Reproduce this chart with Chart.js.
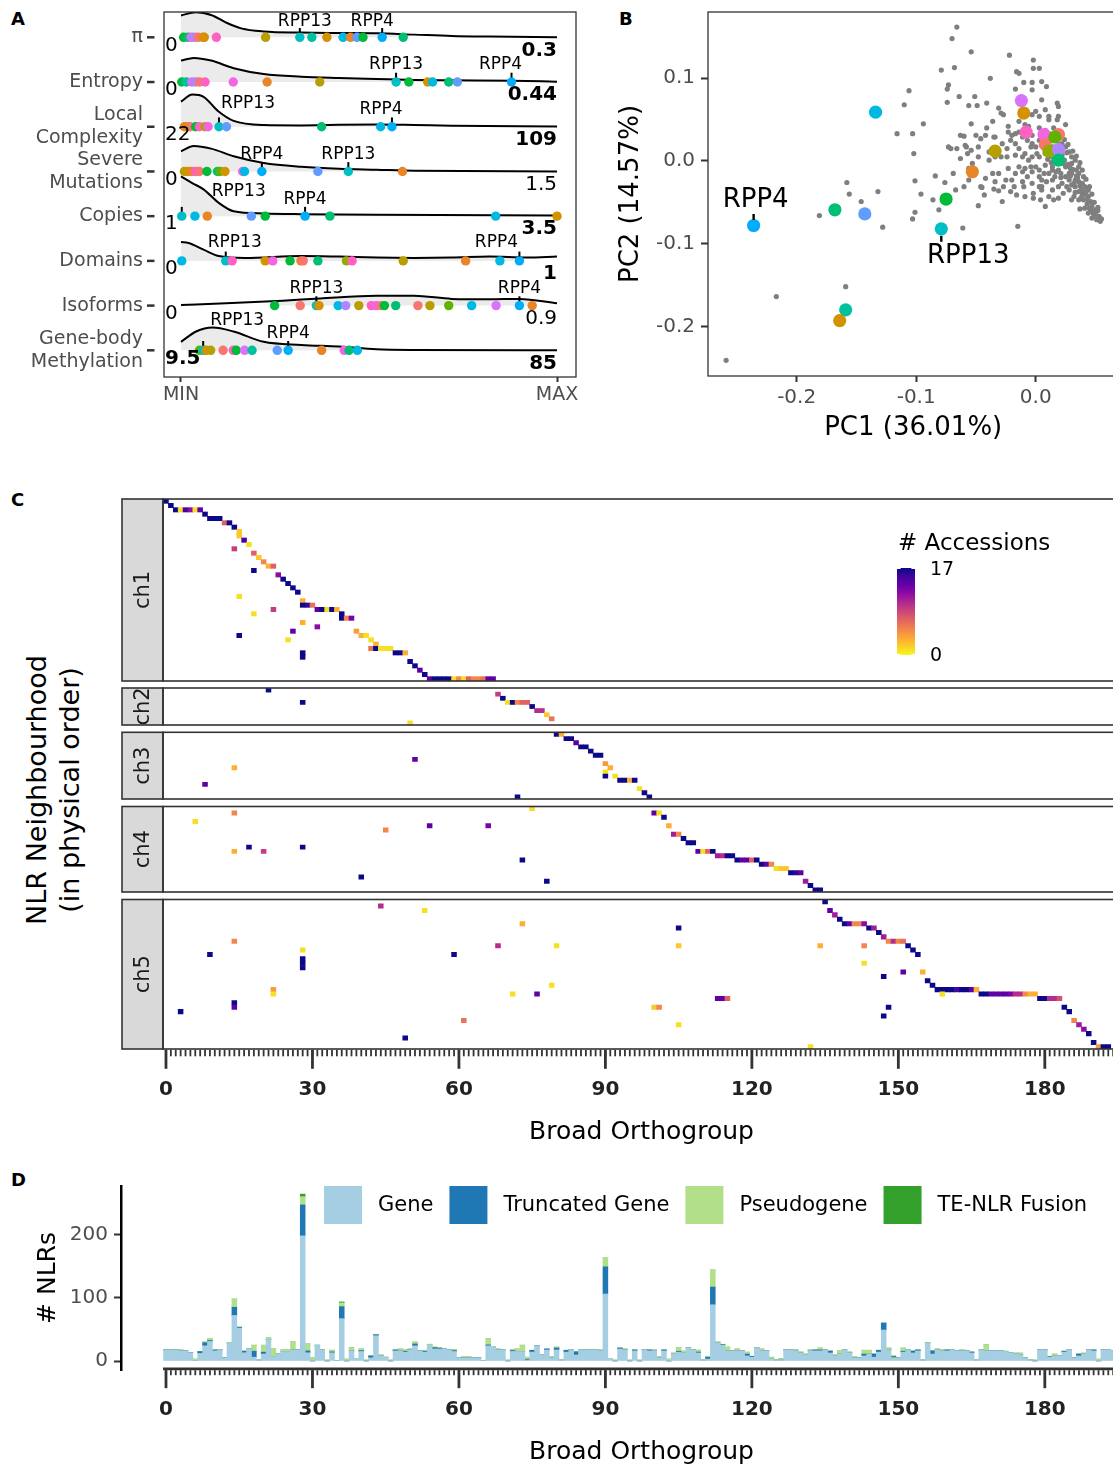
<!DOCTYPE html>
<html>
<head>
<meta charset="utf-8">
<script src="https://cdn.jsdelivr.net/npm/chart.js@4.4.1/dist/chart.umd.min.js"></script>
<style>
html,body{margin:0;padding:0;background:#ffffff;}
body{position:relative;width:1113px;height:1468px;overflow:hidden;font-family:"DejaVu Sans",sans-serif;}
canvas{position:absolute;}
.tag{position:absolute;font-weight:bold;font-size:18px;line-height:18px;color:#000;}
#ctitle{position:absolute;left:-147px;top:757px;width:400px;height:66px;transform:rotate(-90deg);text-align:center;font-size:27px;line-height:33px;color:#000;white-space:nowrap;}
</style>
</head>
<body>
<div class="tag" style="left:11px;top:10px">A</div>
<div class="tag" style="left:619px;top:10px">B</div>
<div class="tag" style="left:11px;top:491px">C</div>
<div class="tag" style="left:11px;top:1171px">D</div>
<div id="ctitle">NLR Neighbourhood<br>(in physical order)</div>
<canvas id="cA" width="595" height="410" style="left:0px;top:0px"></canvas>
<canvas id="cB" width="525" height="445" style="left:600px;top:0px"></canvas>
<canvas id="cC1" style="left:0px"></canvas>
<canvas id="cC2" style="left:0px"></canvas>
<canvas id="cC3" style="left:0px"></canvas>
<canvas id="cC4" style="left:0px"></canvas>
<canvas id="cC5" style="left:0px"></canvas>
<canvas id="cD" width="1125" height="292" style="left:0px;top:1176px"></canvas>
<script>
// ===================== DATA =====================
// Panel A: ridge rows
const ridgeNames = ['π', 'Entropy', ['Local', 'Complexity'], ['Severe', 'Mutations'], 'Copies', 'Domains', 'Isoforms', ['Gene-body', 'Methylation']];
const ridgeMin = ['0', '0', '22', '0', '1', '0', '0', '9.5'];
const ridgeMax = ['0.3', '0.44', '109', '1.5', '3.5', '1', '0.9', '85'];
// density curves (x = scaled value MIN..MAX, d = density height in row units)
const densU = [
  [0, .04, .08, .12, .16, .22, .32, .42, .52, .62, .72, .82, 1],
  [0, .034, .08, .14, .22, .32, .42, .52, .62, .72, .88, 1],
  [0, .03, .06, .1, .14, .22, .32, .42, .52, .62, .72, 1],
  [0, .034, .08, .14, .22, .32, .42, .52, .62, 1],
  [0, .03, .06, .1, .14, .22, .32, .52, 1],
  [0, .02, .06, .1, .17, .32, .42, .52, .62, .72, .82, .92, 1],
  [0, .12, .27, .37, .52, .62, .72, .82, .9, 1],
  [0, .04, .084, .14, .22, .32, .42, .52, .62, 1]
];
const densD = [
  [.49, .56, .50, .33, .20, .13, .105, .096, .09, .06, .03, .016, 0],
  [.48, .54, .48, .31, .18, .12, .09, .067, .045, .038, .03, .007],
  [.56, .72, .67, .34, .13, .038, .03, .045, .05, .038, .022, .007],
  [.45, .57, .51, .34, .19, .105, .06, .038, .016, 0],
  [.89, .74, .60, .30, .11, .06, .045, .03, .016],
  [.42, .40, .25, .11, .067, .11, .096, .074, .067, .074, .096, .074, .096],
  [.016, .05, .11, .16, .22, .22, .15, .14, .15, .05],
  [.19, .42, .51, .42, .19, .12, .083, .022, .007, 0]
];
const shadeFrom = [0, 0, 0, 0, 0, 0, .249, 0];
const shadeTo = [.591, .879, .561, .589, 1, .9, .934, .469];
// highlighted genes per row: [scaled value, gene index]
const ridgePoints = [
  [[.007,6],[.019,7],[.027,14],[.035,13],[.045,0],[.058,1],[.062,2],[.094,16],[.225,3],[.316,9],[.348,8],[.388,2],[.431,10],[.451,1],[.468,12],[.484,6],[.535,11],[.591,7]],
  [[.002,6],[.014,8],[.029,14],[.039,13],[.049,0],[.064,16],[.139,15],[.229,1],[.369,3],[.572,9],[.606,6],[.656,2],[.669,10],[.712,7],[.735,12],[.879,11]],
  [[.009,1],[.017,2],[.024,0],[.039,6],[.049,16],[.064,3],[.072,15],[.101,9],[.121,12],[.374,7],[.531,10],[.561,11]],
  [[.009,3],[.019,2],[.029,1],[.039,16],[.049,0],[.069,6],[.097,7],[.104,5],[.117,2],[.164,15],[.169,10],[.215,11],[.364,12],[.445,9],[.589,1]],
  [[.002,9],[.037,10],[.07,1],[.187,12],[.224,6],[.33,11],[.396,7],[.837,10],[1.0,2]],
  [[.002,10],[.119,9],[.136,16],[.224,2],[.244,15],[.29,6],[.319,1],[.325,0],[.364,7],[.44,4],[.455,16],[.591,3],[.757,1],[.848,10],[.9,11]],
  [[.249,6],[.317,0],[.36,9],[.367,2],[.418,10],[.438,13],[.473,3],[.506,16],[.519,15],[.532,0],[.541,6],[.571,7],[.63,0],[.662,3],[.712,5],[.773,10],[.838,14],[.9,11],[.934,1]],
  [[.049,5],[.059,9],[.067,2],[.079,3],[.112,0],[.139,16],[.147,6],[.169,14],[.189,8],[.256,12],[.285,11],[.374,1],[.434,15],[.447,7],[.469,10]]
];
const labelledGenes = {9: 'RPP13', 11: 'RPP4'};

// Panel B: PCA
const pcaTicksX = [-0.2, -0.1, 0.0];
const pcaTicksY = [-0.2, -0.1, 0.0, 0.1];
const pcaGenes = [
  [-0.236,-0.078,11],[-0.168,-0.059,7],[-0.143,-0.064,12],[-0.134,0.059,10],[-0.075,-0.046,6],
  [-0.079,-0.082,9],[-0.159,-0.180,8],[-0.164,-0.193,2],[-0.053,-0.013,1],[-0.034,0.012,3],
  [-0.012,0.073,14],[-0.010,0.058,2],[-0.008,0.035,16],[0.007,0.032,15],[0.019,0.032,0],
  [0.008,0.020,0],[0.011,0.012,4],[0.016,0.029,5],[0.019,0.014,13],[0.019,0.001,7]
];
const pcaAll = [
  [-0.259,-0.241],[-0.217,-0.164],[-0.159,-0.152],[-0.158,-0.026],[-0.156,-0.040],[-0.181,-0.066],[-0.146,-0.049],[-0.132,-0.037],[-0.128,-0.080],[-0.110,0.068],
  [-0.106,0.085],[-0.116,0.033],[-0.103,0.033],[-0.102,0.009],[-0.094,0.045],[-0.101,-0.024],[-0.096,-0.040],[-0.086,-0.047],[-0.103,-0.070],[-0.101,-0.062],
  [-0.081,-0.059],[-0.084,-0.018],[-0.076,-0.026],[-0.069,-0.015],[-0.061,-0.081],[-0.057,0.009],[-0.070,0.148],[-0.066,0.162],[-0.054,0.132],[-0.079,0.110],
  [-0.068,0.113],[-0.073,0.092],[-0.074,0.087],[-0.074,0.071],[-0.064,0.078],[-0.056,0.067],[-0.051,0.078],[-0.049,0.067],[-0.041,0.070],[-0.038,0.100],
  [-0.054,0.045],[-0.063,0.031],[-0.073,0.017],[-0.071,0.015],[-0.058,0.017],[-0.054,0.013],[-0.050,0.031],[-0.046,0.027],[-0.042,0.031],[-0.041,0.040],
  [-0.034,0.029],[-0.031,0.064],[-0.029,0.058],[-0.027,0.056],[-0.022,0.128],[-0.017,0.087],[-0.016,0.108],[-0.014,0.106],[-0.010,0.095],[-0.003,0.095],
  [-0.002,0.122],[0.003,0.112],[-0.002,0.112],[0.005,0.096],[0.009,0.090],[-0.003,0.086],[0.008,0.062],[0.000,0.060],[0.003,0.054],[-0.006,0.042],
  [0.011,0.050],[0.018,0.070],[0.019,0.066],[0.025,0.044],[0.019,0.054],[-0.023,0.042],[-0.020,0.031],[-0.017,0.021],[-0.014,0.015],[-0.024,0.005],
  [-0.029,0.005],[-0.035,0.029],[-0.031,-0.015],[-0.023,-0.009],[-0.017,-0.015],[-0.011,-0.013],[-0.007,-0.019],[-0.003,-0.013],[0.003,-0.011],[0.007,-0.015],
  [-0.006,0.001],[-0.011,0.005],[-0.009,0.009],[-0.003,0.005],[0.003,0.005],[0.008,-0.005],[0.014,-0.007],[0.019,-0.011],[0.025,-0.007],[0.030,-0.003],
  [0.036,-0.007],[0.030,-0.015],[0.028,-0.023],[0.033,-0.023],[0.039,-0.027],[0.041,-0.031],[0.036,-0.037],[0.044,-0.043],[0.043,-0.052],[0.047,-0.055],
  [0.048,-0.063],[0.051,-0.071],[0.053,-0.067],[0.054,-0.073],[0.044,-0.063],[0.037,-0.058],[0.030,-0.047],[0.019,-0.045],[0.014,-0.035],[0.015,-0.047],
  [0.008,-0.055],[0.004,-0.047],[-0.002,-0.045],[-0.009,-0.043],[-0.002,-0.039],[0.003,-0.031],[-0.003,-0.027],[-0.011,-0.025],[-0.018,-0.031],[-0.020,-0.023],
  [-0.025,-0.023],[-0.035,-0.034],[-0.031,-0.036],[-0.043,-0.041],[-0.045,-0.032],[-0.036,-0.015],[-0.048,-0.054],[-0.015,-0.079],[-0.028,-0.049],[-0.042,-0.021],
  [-0.053,-0.003],[-0.048,0.005],[-0.039,0.001],[-0.056,-0.009],[-0.063,0.003],[-0.066,0.015],[-0.059,0.019],[-0.060,0.030],[-0.039,0.011],[-0.034,0.005],
  [0.000,0.017],[0.005,0.021],[0.014,0.017],[0.011,0.005],[0.016,0.011],[0.022,0.007],[0.025,0.017],[0.028,0.011],[0.030,0.005],[0.033,0.001],
  [0.036,-0.015],[0.040,-0.019],[0.025,-0.019],[0.022,-0.027],[0.028,-0.035],[0.033,-0.031],[0.032,-0.043],[0.023,-0.039],[0.019,-0.031],[0.014,-0.023],
  [0.009,-0.025],[0.005,-0.031],[0.011,-0.015],[0.016,-0.019],[0.021,-0.015],[0.005,-0.023],[0.003,-0.019],[0.000,-0.007],[-0.004,-0.007],[-0.009,-0.009],
  [-0.014,-0.007],[0.011,0.033],[0.015,0.040],[0.021,0.035],[0.008,0.037],[0.003,0.040],[-0.003,0.031],[-0.007,0.025],[-0.011,0.029],[-0.017,0.033],
  [-0.021,0.025],[-0.014,0.035],[-0.004,0.017],[0.001,0.009],[0.008,0.009],[0.015,0.003],[0.018,-0.003],[0.023,-0.003],[0.029,-0.009],[0.034,-0.011],
  [0.039,-0.039],[0.040,-0.047],[0.046,-0.049],[0.050,-0.059],[0.047,-0.069],[0.041,-0.057],[0.036,-0.047],[0.028,-0.015],[0.011,0.054],[0.018,0.050],
  [0.005,0.074],[-0.011,0.062],[-0.014,0.048],[-0.009,0.044],[-0.003,0.056],[-0.023,0.035],[-0.036,0.048],[-0.028,0.021],[-0.024,0.015],[-0.048,0.017],
  [-0.056,-0.023],[-0.060,-0.031],[-0.067,-0.035],[-0.046,-0.031],[-0.034,-0.025],[-0.027,-0.031],[-0.021,-0.037],[-0.016,-0.041],[-0.010,-0.031],[0.005,-0.035],
  [0.011,-0.043],[-0.003,0.021],[-0.017,0.007],[0.003,0.025],[0.009,0.025],[0.016,0.025],[0.022,0.021],[0.019,0.005],[0.014,-0.011],[0.030,-0.029],
  [0.036,-0.025],[0.041,-0.037],[0.044,-0.035],
  [0.022,0.015],[0.026,0.010],[0.024,0.001],[0.027,-0.004],[0.031,-0.010],[0.029,-0.018],[0.034,-0.018],[0.032,-0.027],[0.037,-0.030],[0.035,-0.020],
  [0.038,-0.035],[0.040,-0.041],[0.043,-0.046],[0.042,-0.038],[0.045,-0.057],[0.046,-0.060],[0.049,-0.066],[0.052,-0.060],[0.050,-0.064],[0.038,-0.044],
  [0.033,-0.038],[0.026,-0.031],[0.021,-0.020],[0.017,-0.013],[0.013,-0.002],[0.010,0.002],[0.020,0.020],[0.024,0.026],[0.027,0.020],[0.031,0.012],
  [0.034,0.006],[0.037,-0.002],[0.039,-0.011],[0.042,-0.022],[0.045,-0.031],[0.047,-0.040],[0.049,-0.050],[0.052,-0.056],[0.055,-0.070],[0.044,-0.050]
];

// Panel C: tiles [orthogroup, neighbourhood row, # accessions]
const chrNames = ['ch1', 'ch2', 'ch3', 'ch4', 'ch5'];
const chrRows = [42, 9, 16, 20, 34];
const accessionMax = 17;
const ch1Tiles = [[0,1,17],[1,2,17],[2,3,17],[3,3,1],[4,3,15],[5,3,12],[6,3,1],[7,3,14],[8,4,17],[9,5,17],[10,5,17],[11,5,17],[12,6,7],[13,6,17],[14,7,17],[15,8,2],[15,9,2],[16,10,15],[17,11,1],[14,12,9],[18,13,7],[19,14,2],[20,15,5],[21,16,3],[22,16,7],[18,17,17],[23,18,12],[24,19,17],[25,20,17],[26,21,17],[27,22,17],[15,23,1],[28,24,3],[28,25,17],[29,25,16],[30,25,6],[22,26,9],[31,26,14],[32,26,17],[33,26,1],[34,26,17],[35,26,3],[18,27,1],[36,27,17],[36,28,17],[37,28,5],[38,28,13],[28,29,3],[31,30,12],[26,31,14],[39,31,4],[15,32,17],[40,32,3],[41,32,1],[25,33,1],[42,33,1],[43,34,3],[42,35,6],[43,35,17],[44,35,1],[45,35,1],[46,35,1],[28,36,17],[47,36,17],[48,36,17],[49,36,3],[28,37,17],[50,38,17],[51,39,17],[52,40,14],[53,41,17],[54,42,14],[55,42,17],[56,42,17],[57,42,17],[58,42,17],[59,42,1],[60,42,5],[61,42,1],[62,42,7],[63,42,5],[64,42,5],[65,42,6],[66,42,14],[67,42,14]];
const ch2Tiles = [[21,1,17],[68,2,9],[69,3,17],[28,4,17],[70,4,1],[71,4,17],[72,4,5],[73,4,7],[74,4,7],[75,5,17],[76,6,10],[77,6,10],[78,7,2],[79,8,6],[50,9,1]];
const ch3Tiles = [[80,1,17],[81,1,3],[82,2,17],[83,2,17],[84,3,14],[85,4,17],[86,4,17],[87,5,17],[88,6,17],[89,6,17],[51,7,14],[90,8,4],[14,9,3],[91,9,3],[90,10,1],[90,11,17],[92,11,1],[93,12,17],[94,12,17],[95,12,3],[96,12,17],[8,13,14],[97,14,1],[98,15,17],[72,16,17],[99,16,17]];
const ch4Tiles = [[75,1,1],[14,2,5],[100,2,14],[101,2,1],[102,3,17],[6,4,1],[54,5,14],[66,5,13],[103,5,3],[45,6,5],[104,7,11],[105,7,5],[106,8,17],[107,9,17],[108,9,17],[17,10,17],[28,10,17],[14,11,3],[20,11,9],[109,11,14],[110,11,1],[111,11,7],[112,11,17],[113,12,11],[114,12,10],[115,12,17],[116,12,17],[73,13,17],[117,13,17],[118,13,14],[119,13,14],[120,13,7],[121,13,17],[122,14,17],[123,14,14],[124,14,5],[125,15,1],[126,15,2],[127,15,2],[128,16,17],[129,16,16],[130,16,14],[40,17,17],[78,18,17],[131,18,11],[132,19,17],[133,20,17],[134,20,17]];
const ch5Tiles = [[135,1,17],[44,2,10],[53,3,1],[136,3,14],[137,4,11],[138,5,17],[73,6,3],[139,6,17],[140,6,14],[141,6,5],[142,6,5],[143,6,12],[105,7,17],[144,7,17],[145,7,11],[146,8,17],[147,9,11],[14,10,5],[148,10,5],[149,10,10],[150,10,5],[151,10,6],[68,11,10],[80,11,1],[105,11,2],[134,11,3],[143,11,5],[152,11,17],[28,12,1],[153,12,17],[9,13,17],[59,13,17],[154,13,17],[28,14,17],[28,15,17],[143,15,1],[28,16,17],[151,17,14],[155,17,3],[147,18,17],[156,19,17],[79,20,1],[157,20,17],[22,21,4],[158,21,17],[159,21,17],[160,21,17],[161,21,17],[162,21,15],[163,21,17],[164,21,17],[165,21,14],[166,21,3],[22,22,1],[71,22,1],[76,22,14],[159,22,1],[167,22,17],[168,22,17],[169,22,14],[170,22,14],[171,22,14],[172,22,14],[173,22,13],[174,22,10],[175,22,10],[176,22,5],[177,22,3],[178,22,3],[113,23,14],[114,23,14],[115,23,7],[179,23,17],[180,23,17],[181,23,10],[182,23,10],[183,23,8],[14,24,17],[14,25,14],[100,25,2],[101,25,5],[148,25,17],[184,25,17],[3,26,17],[185,26,17],[147,27,17],[61,28,6],[186,28,5],[105,29,1],[187,29,11],[188,30,12],[189,31,17],[49,32,17],[190,33,17],[132,34,1],[191,34,4],[192,34,17],[193,34,17]];
const chrTiles = [ch1Tiles, ch2Tiles, ch3Tiles, ch4Tiles, ch5Tiles];
const orthoTicks = [0, 30, 60, 90, 120, 150, 180];

// Panel D: NLR counts per broad orthogroup (0..194)
const nlrClasses = ['Gene', 'Truncated Gene', 'Pseudogene', 'TE-NLR Fusion'];
const nlrTicks = [0, 100, 200];
const nlrGene = [
  17.5,17.5,17.5,16,16,13,1,12,24,31,
  16,17.5,5,28,72,52,13,19,6,1.5,
  11,34,6,11,15,15,17.5,17.5,198,13,
  0,25,17.5,0,13,1,67,0,16,3,
  15,0,5,40,8,6,0,16,16,14,
  17.5,24,16,14,25,19,19,19,17.5,15,
  5,5,5,5,5,1,24,22,17.5,17.5,
  0,15,15,15,1.5,14,24,9.5,17.5,5,
  17.5,1.5,14,17.5,9.5,17.5,17.5,17.5,17.5,16,
  106,3,0,19,17.5,0,16,0,17.5,16,
  16,5,16,0,11,14,12.7,20.6,17.5,12.7,
  1.5,3,89,28.5,25,16,16,16,16,8,
  6,20.6,16,16,3,1.5,1.5,17.5,17.5,16,
  12.7,9.5,16,16,16,17.5,12.7,8,11,17.5,
  12.7,5,5,8,11,6,14,49,17.5,5,
  5,14,17.5,12.7,16,1.5,28.5,11,17.5,16,
  16,17.5,16,16,16,12.7,1.5,17.5,16,16,
  16,16,14,12.7,11,9.5,5,1.5,0,17.5,
  17.5,6,8,8,14,17.5,5,8,11,17.5,
  16,0,17.5,17.5,16
];
const nlrTrunc = [
  0,0,0,0,0,0,0,3,5,1.5,
  1.5,0,0,0,13,1.5,2.6,0,9.5,0,
  3,0,0,0,0,0,0,0,49,3,
  0,0,0,0,1.5,0,19,0,0,0,
  1.5,0,3,1.5,0,0,0,1.5,0,1.5,
  0,3,0,1.5,0,1.5,1.5,0,0,1.5,
  0,0,0,0,0,0,1.5,0,0,0,
  0,1.5,0,0,1.5,3,0,0,1.5,0,
  3,0,3,0,5,0,0,0,0,0,
  43,0,0,1.5,0,0,1.5,0,0,1.5,
  0,0,1.5,0,0,1.5,0,0,0,1.5,
  0,3,28,0,0,0,0,0,0,3,
  1.5,0,0,0,0,0,0,0,0,0,
  0,0,0,1.5,1.5,0,3,0,0,0,
  0,0,0,3,0,5,3,11,0,0,
  0,1.5,0,3,1.5,0,0,5,0,0,
  1.5,0,0,0,0,1.5,0,0,0,0,
  0,0,0,0,0,0,0,0,0,0,
  0,0,0,0,1.5,0,0,3,0,0,
  1.5,0,0,0,0
];
const nlrPseudo = [
  0,0,0,1.5,0,0,2,0,1,2.6,
  0,0,0,1,13,0,0,0,9.5,0,
  11,2.6,14,0,2.6,2.6,12.7,0,13,11,
  5,0,0,1.5,2.6,0,6,3,5,0,
  2.6,1.5,0,0,1.5,0,1.5,0,3,3,
  1.5,3,0,1.5,1.5,0,0,0,0,1.5,
  0,1.5,1.5,0,0,0,9.5,0,1.5,0,
  1.5,1.5,4,10,3,0,0,0,0,1.5,
  1.5,0,0,0,0,0,0,0,0,1.5,
  14,0,1.5,0,1.5,1.5,0,1.5,0,0,
  1.5,1.5,0,3,1.5,6,3,0,0,3,
  0,1.5,27,1.5,0,6,0,3,0,3,
  0,0,3,0,3,0,2,0,0,1.5,
  1.5,1.5,1.5,0,3,0,0,1.5,5,0,
  1.5,1.5,0,6,6,0,0,0,3,0,
  0,5,0,0,0,0,0,0,1.5,1.5,
  0,0,0,1.5,1,0,0,0,9.5,0,
  0,0,1.5,0,1.5,3,0,0,1.5,0,
  0,0,3,0,0,0,0,0,1.5,0,
  0,3,0,0,0
];
const nlrTE = [
  0,0,0,0,0,0,0,0,0,0,
  0,0,0,0,0,0,0,0,0,0,
  0,0,0,0,0,0,0,0,4,0,
  0,0,0,0,0,0,1.5,0,0,0,
  0,0,0,0,0,0,0,0,0,0,
  0,0,0,0,0,1.5,0,0,0,0,
  0,0,0,0,0,0,0,0,0,0,
  0,0,0,0,0,0,0,0,0,0,
  0,0,0,0,0,0,0,0,0,0,
  0,0,0,0,0,0,0,0,0,0,
  0,0,0,0,0,0,0,0,0,0,
  0,0,0,0,1.5,0,0,0,0,0,
  0,0,0,0,0,0,0,0,0,0,
  0,0,0,0,0,0,0,0,0,0,
  0,0,0,0,0,0,0,0,0,3,
  0,0,0,0,0,0,0,0,0,0,
  0,0,0,0,0,0,0,0,0,0,
  0,0,0,0,0,0,0,0,0,0,
  0,1.5,0,0,0,0,0,0,0,0,
  0,0,0,0,0
];
const nlrCounts = [nlrGene, nlrTrunc, nlrPseudo, nlrTE];

// ===================== STYLE =====================
const genePalette = ['#F8766D','#E88526','#D39200','#B79F00','#93AA00','#5EB300','#00BA38','#00BF74','#00C19F','#00BFC4','#00B9E3','#00ADFA','#619CFF','#AE87FF','#DB72FB','#F564E3','#FF61C3'];
const plasmaStops = ['#0D0887','#41049D','#6A00A8','#8F0DA4','#B12A90','#CC4778','#E16462','#F2844B','#FCA636','#FCCE25','#F0F921'];
const nlrColors = ['#A6CEE3', '#1F78B4', '#B2DF8A', '#33A02C'];
const FONT = "'DejaVu Sans', sans-serif";
const ridgeNudge = [
  {RPP13:[5,-16], RPP4:[-10,-16]}, {RPP13:[0,-17], RPP4:[-11,-17]}, {RPP13:[29,-23], RPP4:[-11,-17]},
  {RPP13:[0,-17], RPP4:[0,-17]}, {RPP13:[57,-25], RPP4:[0,-17]}, {RPP13:[9,-18], RPP4:[-23,-18]},
  {RPP13:[0,-17], RPP4:[0,-17]}, {RPP13:[34,-30], RPP4:[0,-17]}
];
const minBold = [0,0,0,0,0,0,0,1];
const maxBold = [1,1,1,0,1,1,0,1];
const pcaNudge = {RPP4:{text:[2,-25.5], tick:[-11.5,-5.5]}, RPP13:{text:[27,27], tick:[7,13]}};

function hexToRgb(h){ return [parseInt(h.slice(1,3),16), parseInt(h.slice(3,5),16), parseInt(h.slice(5,7),16)]; }
function plasma(t){
  t = Math.max(0, Math.min(1, t));
  const n = plasmaStops.length - 1;
  const p = t * n;
  const i = Math.min(n - 1, Math.floor(p));
  const f = p - i;
  const a = hexToRgb(plasmaStops[i]), b = hexToRgb(plasmaStops[i+1]);
  return 'rgb(' + Math.round(a[0]+(b[0]-a[0])*f) + ',' + Math.round(a[1]+(b[1]-a[1])*f) + ',' + Math.round(a[2]+(b[2]-a[2])*f) + ')';
}
function tileColor(n){ return plasma(1 - n / accessionMax); }
function fixBox(h, w){
  return function(s){
    if (h !== null) s.height = h;
    if (w !== null) s.width = w;
    s.paddingTop = 0; s.paddingBottom = 0; s.paddingLeft = 0; s.paddingRight = 0;
  };
}

Chart.defaults.font.family = FONT;
Chart.defaults.animation = false;
Chart.defaults.events = [];
Chart.defaults.responsive = false;
Chart.defaults.plugins.legend.display = false;
Chart.defaults.plugins.tooltip.enabled = false;

// ===================== PANEL A =====================
const rowBase = k => ridgeNames.length - k;
const ridgePlugin = {
  id: 'ridge',
  beforeDatasetsDraw(chart){
    const {ctx, chartArea: ca, scales} = chart;
    const xs = scales.x, ys = scales.y;
    chart.data.datasets.forEach((ds, i) => {
      if (ds.ridgeRow === undefined) return;
      const k = ds.ridgeRow;
      const meta = chart.getDatasetMeta(i);
      const line = meta.dataset;
      line.updateControlPoints(ca, 'x');
      const pts = meta.data;
      const x0 = xs.getPixelForValue(shadeFrom[k]), x1 = xs.getPixelForValue(shadeTo[k]);
      const yb = ys.getPixelForValue(rowBase(k));
      ctx.save();
      ctx.beginPath(); ctx.rect(x0, ca.top, x1 - x0, ca.bottom - ca.top); ctx.clip();
      ctx.beginPath();
      line.path(ctx);
      ctx.lineTo(pts[pts.length-1].x, yb);
      ctx.lineTo(pts[0].x, yb);
      ctx.closePath();
      ctx.fillStyle = '#EBEBEB';
      ctx.fill();
      ctx.restore();
    });
  },
  afterDatasetsDraw(chart){
    const {ctx, chartArea: ca, scales} = chart;
    const xs = scales.x, ys = scales.y;
    ctx.save();
    ridgeNames.forEach((nm, k) => {
      const yb = ys.getPixelForValue(rowBase(k));
      ctx.strokeStyle = '#333'; ctx.lineWidth = 2.5;
      ctx.beginPath(); ctx.moveTo(ca.left - 17, yb); ctx.lineTo(ca.left - 9.5, yb); ctx.stroke();
      ridgePoints[k].forEach(p => {
        const name = labelledGenes[p[1]];
        if (!name) return;
        const px = xs.getPixelForValue(p[0]);
        const nd = ridgeNudge[k][name];
        ctx.fillStyle = '#000';
        ctx.fillRect(px - 1, yb - 9.3, 2, 4.8);
        ctx.font = '17px ' + FONT; ctx.textAlign = 'center'; ctx.textBaseline = 'middle';
        ctx.fillText(name, px + nd[0], yb + nd[1]);
      });
      ctx.fillStyle = '#000'; ctx.textBaseline = 'middle';
      ctx.font = (minBold[k] ? 'bold ' : '') + '20px ' + FONT; ctx.textAlign = 'left';
      ctx.fillText(ridgeMin[k], xs.getPixelForValue(0) - 16, yb + 8);
      ctx.font = (maxBold[k] ? 'bold ' : '') + '20px ' + FONT; ctx.textAlign = 'right';
      ctx.fillText(ridgeMax[k], xs.getPixelForValue(1), yb + 13);
    });
    ctx.strokeStyle = '#333'; ctx.lineWidth = 1.3;
    ctx.strokeRect(ca.left, ca.top, ca.right - ca.left, ca.bottom - ca.top);
    ctx.restore();
  }
};
const dsA = [];
ridgeNames.forEach((nm, k) => {
  const b = rowBase(k);
  dsA.push({type:'scatter', order:0, data: ridgePoints[k].map(p => ({x:p[0], y:b})),
    backgroundColor: ridgePoints[k].map(p => genePalette[p[1]]), pointRadius:4.7, pointBorderWidth:0});
  dsA.push({type:'line', order:1, ridgeRow:k, data: densU[k].map((u, i) => ({x:u, y:b + densD[k][i]})),
    borderColor:'#000', borderWidth:2, pointRadius:0, cubicInterpolationMode:'monotone', fill:false});
});
new Chart(document.getElementById('cA'), {
  type: 'scatter',
  data: {datasets: dsA},
  options: {
    layout: {padding: {left:0, right:19, top:12, bottom:0}},
    scales: {
      x: {type:'linear', min:-0.0452, max:1.0505,
        afterFit: fixBox(33, null),
        afterBuildTicks(s){ s.ticks = [{value:0}, {value:1}]; },
        ticks: {callback:(v) => (v < 0.5 ? 'MIN' : 'MAX'), font:{size:19}, color:'#4D4D4D', padding:2, maxRotation:0, autoSkip:false},
        grid: {drawOnChartArea:false, tickLength:5, tickWidth:2, tickColor:'#333'},
        border: {display:false}},
      y: {type:'linear', min:0.403, max:8.566,
        afterFit: fixBox(null, 164),
        afterBuildTicks(s){ s.ticks = ridgeNames.map((n, k) => ({value: k + 1})); },
        ticks: {callback:(v) => ridgeNames[Math.round(ridgeNames.length - v)], font:{size:19}, color:'#4D4D4D', padding:21, autoSkip:false},
        grid: {display:false, drawTicks:false},
        border: {display:false}}
    },
    plugins: {filler: {propagate:false}}
  },
  plugins: [ridgePlugin]
});

// ===================== PANEL B =====================
const pcaPlugin = {
  id: 'pcaDecor',
  afterDatasetsDraw(chart){
    const {ctx, chartArea: ca, scales} = chart;
    const xs = scales.x, ys = scales.y;
    ctx.save();
    ctx.fillStyle = '#000'; ctx.font = '26px ' + FONT; ctx.textAlign = 'center'; ctx.textBaseline = 'middle';
    pcaGenes.forEach(g => {
      const name = labelledGenes[g[2]];
      if (!name) return;
      const px = xs.getPixelForValue(g[0]), py = ys.getPixelForValue(g[1]);
      const n = pcaNudge[name];
      ctx.fillRect(px - 1.2, py + n.tick[0], 2.4, n.tick[1] - n.tick[0]);
      ctx.fillText(name, px + n.text[0], py + n.text[1]);
    });
    ctx.strokeStyle = '#333'; ctx.lineWidth = 1.3;
    ctx.strokeRect(ca.left, ca.top, ca.right - ca.left, ca.bottom - ca.top);
    ctx.restore();
  }
};
const fmt1 = v => (Math.abs(v) < 1e-9 ? '0.0' : v.toFixed(1));
new Chart(document.getElementById('cB'), {
  type: 'scatter',
  data: {datasets: [
    {order:0, data: pcaGenes.map(g => ({x:g[0], y:g[1]})), backgroundColor: pcaGenes.map(g => genePalette[g[2]]), pointRadius:6.6, pointBorderWidth:0},
    {order:1, data: pcaAll.map(p => ({x:p[0], y:p[1]})), backgroundColor:'#7F7F7F', pointRadius:2.6, pointBorderWidth:0}
  ]},
  options: {
    layout: {padding: {left:0, right:5, top:12, bottom:0}},
    scales: {
      x: {type:'linear', min:-0.27417, max:0.06917,
        afterFit: fixBox(69, null),
        afterBuildTicks(s){ s.ticks = pcaTicksX.map(v => ({value:v})); },
        ticks: {callback: fmt1, font:{size:20}, color:'#4D4D4D', padding:4, maxRotation:0, autoSkip:false},
        grid: {drawOnChartArea:false, tickLength:6, tickWidth:2, tickColor:'#333'},
        border: {display:false},
        title: {display:true, text:'PC1 (36.01%)', font:{size:26}, color:'#000', padding:{top:0, bottom:1}}},
      y: {type:'linear', min:-0.26, max:0.18017,
        afterFit: fixBox(null, 108),
        afterBuildTicks(s){ s.ticks = pcaTicksY.map(v => ({value:v})); },
        ticks: {callback: fmt1, font:{size:20}, color:'#4D4D4D', padding:6, autoSkip:false},
        grid: {drawOnChartArea:false, tickLength:7, tickWidth:2, tickColor:'#333'},
        border: {display:false},
        title: {display:true, text:'PC2 (14.57%)', font:{size:26}, color:'#000', padding:{top:16, bottom:0}}}
    }
  },
  plugins: [pcaPlugin]
});

// ===================== PANEL C =====================
const facetBox = [{top:499, bottom:684.5}, {top:688, bottom:728}, {top:732.3, bottom:802.5}, {top:806.5, bottom:895.5}, {top:899.5, bottom:1049}];
const orthoMin = -0.61, orthoMax = 195.4;
const facetPlugin = {
  id: 'facet',
  afterDraw(chart, args, o){
    const {ctx, chartArea: ca} = chart;
    ctx.save();
    ctx.fillStyle = '#D9D9D9';
    ctx.fillRect(122, ca.top, ca.left - 122, ca.bottom - ca.top);
    ctx.strokeStyle = '#333'; ctx.lineWidth = 1.6;
    ctx.strokeRect(122, ca.top, ca.left - 122, ca.bottom - ca.top);
    ctx.strokeRect(ca.left, ca.top, ca.right - ca.left + 10, ca.bottom - ca.top);
    ctx.beginPath(); ctx.rect(123, ca.top + 1, ca.left - 124, ca.bottom - ca.top - 2); ctx.clip();
    ctx.translate((122 + ca.left) / 2, (ca.top + ca.bottom) / 2);
    ctx.rotate(-Math.PI / 2);
    ctx.font = '21px ' + FONT; ctx.fillStyle = '#1A1A1A'; ctx.textAlign = 'center'; ctx.textBaseline = 'middle';
    ctx.fillText(o.label, 0, 1);
    ctx.restore();
  }
};
const colorbarPlugin = {
  id: 'colorbar',
  afterDraw(chart){
    const ctx = chart.ctx;
    const off = parseFloat(chart.canvas.style.top);
    const x0 = 897, w = 18, yT = 568 - off, yB = 655 - off;
    ctx.save();
    const g = ctx.createLinearGradient(0, yT, 0, yB);
    plasmaStops.forEach((c, i) => g.addColorStop(i / (plasmaStops.length - 1), c));
    ctx.fillStyle = g;
    ctx.fillRect(x0, yT, w, yB - yT);
    ctx.strokeStyle = '#fff'; ctx.lineWidth = 1;
    [yT + 0.5, yB - 0.5].forEach(yy => { ctx.beginPath(); ctx.moveTo(x0, yy); ctx.lineTo(x0 + 3.6, yy); ctx.moveTo(x0 + w - 3.6, yy); ctx.lineTo(x0 + w, yy); ctx.stroke(); });
    ctx.fillStyle = '#000'; ctx.textAlign = 'left'; ctx.textBaseline = 'middle';
    ctx.font = '23px ' + FONT;
    ctx.fillText('# Accessions', 898, 544 - off);
    ctx.font = '19px ' + FONT;
    ctx.fillText(String(accessionMax), 930, 570 - off);
    ctx.fillText('0', 930, 656 - off);
    ctx.restore();
  }
};
const orthoAxisPlugin = {
  id: 'orthoAxis',
  afterDraw(chart, args, o){
    const {ctx, chartArea: ca, scales} = chart;
    const xs = scales.x;
    const y0 = ca.bottom + o.shift;
    const xStart = xs.getPixelForValue(orthoMin);
    ctx.save();
    ctx.strokeStyle = '#333';
    if (o.lineW > 0) {
      ctx.lineWidth = o.lineW;
      ctx.beginPath(); ctx.moveTo(xStart, o.lineY + ca.bottom); ctx.lineTo(ca.right + 10, o.lineY + ca.bottom); ctx.stroke();
    }
    ctx.lineWidth = 1.8;
    for (let v = 0; v <= Math.floor(orthoMax); v++) {
      const px = xs.getPixelForValue(v);
      ctx.beginPath(); ctx.moveTo(px, y0); ctx.lineTo(px, y0 + o.minor); ctx.stroke();
    }
    ctx.lineWidth = 2.8;
    orthoTicks.forEach(v => {
      const px = xs.getPixelForValue(v);
      ctx.beginPath(); ctx.moveTo(px, y0); ctx.lineTo(px, y0 + o.major); ctx.stroke();
    });
    if (o.title) {
      ctx.fillStyle = '#000'; ctx.font = '25px ' + FONT; ctx.textAlign = 'center'; ctx.textBaseline = 'middle';
      ctx.fillText(o.title, (xStart + ca.right) / 2, ca.bottom + o.titleY);
    }
    ctx.restore();
  }
};
chrNames.forEach((nm, c) => {
  const cv = document.getElementById('cC' + (c + 1));
  const box = facetBox[c];
  const isBottom = (c === chrNames.length - 1);
  const cTop = Math.floor(box.top) - 3;
  const cBottom = isBottom ? 1160 : Math.ceil(box.bottom) + 3;
  cv.width = 1125; cv.height = cBottom - cTop;
  cv.style.top = cTop + 'px';
  const tiles = chrTiles[c];
  const plugins = [facetPlugin];
  if (c === 0) plugins.push(colorbarPlugin);
  if (isBottom) plugins.push(orthoAxisPlugin);
  new Chart(cv, {
    type: 'bar',
    data: {datasets: [{
      data: tiles.map(t => ({x:t[0], y:[t[1] - 0.5, t[1] + 0.5]})),
      backgroundColor: tiles.map(t => tileColor(t[2])),
      borderWidth: 0, barPercentage: 1, categoryPercentage: 1, grouped: false
    }]},
    options: {
      layout: {padding: {left:163, right:5, top: box.top - cTop, bottom: isBottom ? 0 : cBottom - box.bottom}},
      scales: {
        x: {type:'linear', offset:false, min:orthoMin, max:orthoMax, display: isBottom,
          afterFit: fixBox(cBottom - box.bottom, null),
          afterBuildTicks(s){ s.ticks = orthoTicks.map(v => ({value:v})); },
          ticks: {font:{size:20, weight:'bold'}, color:'#222', padding:29, maxRotation:0, autoSkip:false},
          grid: {display:false, drawTicks:false, offset:false},
          border: {display:false},
          title: {display:true, text:'Broad Orthogroup', font:{size:25}, color:'#000', padding:{top:0, bottom:13}}},
        y: {type:'linear', reverse:true, min:0.5, max:chrRows[c] + 0.5, display:false}
      },
      plugins: {facet: {label: nm}, orthoAxis: {shift:0.8, lineW:0, lineY:0, minor:6.5, major:19, title:null}}
    },
    plugins: plugins
  });
});

// ===================== PANEL D =====================
const nlrLegendPlugin = {
  id: 'nlrLegend',
  afterDraw(chart, args, o){
    const ctx = chart.ctx;
    ctx.save();
    ctx.font = '21px ' + FONT; ctx.textBaseline = 'middle'; ctx.textAlign = 'left';
    let x = o.x;
    chart.data.datasets.forEach(ds => {
      ctx.fillStyle = ds.backgroundColor;
      ctx.fillRect(x, o.y, o.box, o.box);
      x += o.box + o.gapText;
      ctx.fillStyle = '#000';
      ctx.fillText(ds.label, x, o.y + o.box / 2 + 1);
      x += ctx.measureText(ds.label).width + o.gapItem;
    });
    ctx.restore();
  }
};
new Chart(document.getElementById('cD'), {
  type: 'bar',
  data: {datasets: nlrClasses.map((name, j) => ({
    label: name,
    data: nlrCounts[j].map((v, i) => ({x:i, y:v})),
    backgroundColor: nlrColors[j], borderWidth:0, barPercentage:1, categoryPercentage:1
  }))},
  options: {
    layout: {padding: {left:0, right:5, top:10, bottom:0}},
    scales: {
      x: {type:'linear', stacked:true, offset:false, min:-9.216, max:orthoMax,
        afterFit: fixBox(98, null),
        afterBuildTicks(s){ s.ticks = orthoTicks.map(v => ({value:v})); },
        ticks: {font:{size:20, weight:'bold'}, color:'#222', padding:28, maxRotation:0, autoSkip:false},
        grid: {display:false, drawTicks:false, offset:false},
        border: {display:false},
        title: {display:false}},
      y: {type:'linear', stacked:true, min:-14.24, max:276.9,
        afterFit: fixBox(null, 121),
        afterBuildTicks(s){ s.ticks = nlrTicks.map(v => ({value:v})); },
        ticks: {font:{size:20}, color:'#4D4D4D', padding:6, autoSkip:false},
        grid: {drawOnChartArea:false, tickLength:7, tickWidth:2, tickColor:'#333'},
        border: {display:true, color:'#000', width:2.5},
        title: {display:true, text:'# NLRs', font:{size:25}, color:'#000', padding:{top:33, bottom:0}}}
    },
    plugins: {
      orthoAxis: {shift:0.2, lineW:2.7, lineY:-1.2, minor:5, major:18, title:'Broad Orthogroup', titleY:82},
      nlrLegend: {x:324, y:10, box:38, gapText:16, gapItem:16}
    }
  },
  plugins: [orthoAxisPlugin, nlrLegendPlugin]
});
</script>
</body>
</html>
